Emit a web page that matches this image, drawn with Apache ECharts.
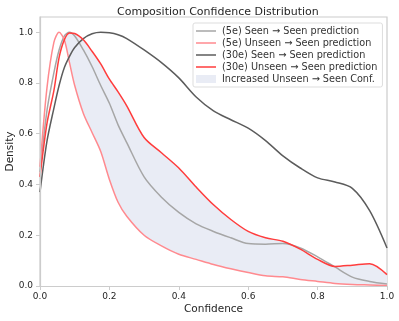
<!DOCTYPE html>
<html>
<head>
<meta charset="utf-8">
<script src="https://cdn.jsdelivr.net/npm/echarts@6/dist/echarts.min.js"></script>
<style>
  html, body { margin: 0; padding: 0; background: #fff; }
  #chart { width: 399px; height: 321px; }
</style>
</head>
<body>
<div id="chart"></div>
<script>
  // confidence grid (x) shared by every curve
  const conf = [0, 0.02, 0.04, 0.055, 0.07, 0.085, 0.1, 0.125, 0.15, 0.175, 0.2, 0.225, 0.25,
    0.3, 0.35, 0.4, 0.45, 0.5, 0.55, 0.6, 0.65, 0.7, 0.75, 0.8, 0.85, 0.9, 0.95, 1.0];
  const seen5e = [0.45, 0.69, 0.84, 0.93, 0.985, 1.0, 0.985, 0.93, 0.865, 0.79, 0.72, 0.635, 0.565,
    0.43, 0.35, 0.29, 0.245, 0.215, 0.19, 0.167, 0.165, 0.167, 0.15, 0.115, 0.075, 0.035, 0.018, 0.008];
  const unseen5e = [0.47, 0.78, 0.96, 1.0, 0.97, 0.88, 0.79, 0.68, 0.605, 0.53, 0.42, 0.33, 0.275,
    0.2, 0.158, 0.125, 0.105, 0.085, 0.068, 0.053, 0.04, 0.036, 0.026, 0.018, 0.01, 0.006, 0.004, 0.002];
  const seen30e = [0.37, 0.57, 0.70, 0.79, 0.86, 0.905, 0.94, 0.975, 0.994, 1.0, 0.998, 0.99, 0.975,
    0.93, 0.88, 0.82, 0.745, 0.69, 0.655, 0.622, 0.573, 0.513, 0.465, 0.426, 0.41, 0.385, 0.297, 0.15];
  const unseen30e = [0.43, 0.64, 0.77, 0.90, 0.97, 0.997, 0.995, 0.97, 0.925, 0.875, 0.815, 0.765, 0.71,
    0.585, 0.525, 0.465, 0.39, 0.32, 0.262, 0.215, 0.19, 0.176, 0.145, 0.105, 0.077, 0.082, 0.088, 0.045];
  const xTicks = [0, 0.2, 0.4, 0.6, 0.8, 1.0];
  const yTicks = [0, 0.2, 0.4, 0.6, 0.8, 1.0];

  const names = {
    s5: '(5e) Seen \u2192 Seen prediction',
    u5: '(5e) Unseen \u2192 Seen prediction',
    s30: '(30e) Seen \u2192 Seen prediction',
    u30: '(30e) Unseen \u2192 Seen prediction',
    fill: 'Increased Unseen \u2192 Seen Conf.'
  };
  const fillColor = '#e9ecf5';
  const font = 'DejaVu Sans';
  const lineIcon = 'path://M0,0 L40,0 L40,3 L0,3 Z';

  const pairs = (ys) => conf.map((x, i) => [x, ys[i]]);

  const lineSeries = (name, ys, color) => ({
    name,
    type: 'line',
    data: pairs(ys),
    smooth: 0.3,
    symbol: 'none',
    z: 4,
    lineStyle: { color, width: 1.5 },
    itemStyle: { color }
  });

  const myChart = echarts.init(document.getElementById('chart'));
  const option = {
    animation: false,
    textStyle: { fontFamily: font },
    title: {
      text: 'Composition Confidence Distribution',
      left: 112,
      top: 2,
      textStyle: { fontFamily: font, fontSize: 11, fontWeight: 'normal', color: '#262626' }
    },
    grid: {
      left: 40, right: 12, top: 17, bottom: 35,
      outerBoundsMode: 'none',
      show: true, borderColor: '#cccccc', borderWidth: 1.2
    },
    legend: {
      orient: 'vertical',
      left: 193,
      top: 23,
      padding: [3, 5, 3, 3],
      itemWidth: 20,
      itemHeight: 8,
      itemGap: 2,
      backgroundColor: 'rgba(255,255,255,0.85)',
      borderColor: '#dddddd',
      borderWidth: 1,
      borderRadius: 2,
      z: 10,
      textStyle: { fontFamily: font, fontSize: 9.7, color: '#333', padding: [0, 0, 0, 1] },
      data: [
        { name: names.s5, icon: lineIcon },
        { name: names.u5, icon: lineIcon },
        { name: names.s30, icon: lineIcon },
        { name: names.u30, icon: lineIcon },
        { name: names.fill, icon: 'rect' }
      ]
    },
    xAxis: {
      type: 'value',
      min: 0,
      max: 1,
      interval: 0.2,
      z: 10,
      name: 'Confidence',
      nameLocation: 'middle',
      nameGap: 18,
      nameMoveOverlap: false,
      nameTextStyle: { fontFamily: font, fontSize: 10.5, color: '#262626' },
      splitLine: { show: false },
      axisLine: { show: true, lineStyle: { color: '#cccccc', width: 1.2 } },
      axisTick: { show: true, length: 4, customValues: xTicks, lineStyle: { color: '#cccccc' } },
      axisLabel: {
        customValues: xTicks,
        margin: 6,
        fontSize: 9,
        color: '#262626',
        formatter: (v) => v.toFixed(1)
      }
    },
    yAxis: {
      type: 'value',
      min: 0,
      max: 1.06,
      z: 10,
      name: 'Density',
      nameLocation: 'middle',
      nameGap: 24,
      nameMoveOverlap: false,
      nameTextStyle: { fontFamily: font, fontSize: 10.5, color: '#262626' },
      splitLine: { show: false },
      axisLine: { show: true, lineStyle: { color: '#cccccc', width: 1.2 } },
      axisTick: { show: true, length: 4, customValues: yTicks, lineStyle: { color: '#cccccc' } },
      axisLabel: {
        customValues: yTicks,
        margin: 7,
        fontSize: 9,
        color: '#262626',
        formatter: (v) => v.toFixed(1)
      }
    },
    series: [
      // band: lavender under the 30e unseen curve, masked in white under the 5e unseen curve
      {
        name: names.fill,
        type: 'line',
        data: pairs(unseen30e),
        smooth: 0.3,
        symbol: 'none',
        silent: true,
        z: 1,
        lineStyle: { opacity: 0, width: 0 },
        itemStyle: { color: fillColor },
        areaStyle: { color: fillColor, opacity: 1 }
      },
      {
        name: 'band-mask',
        type: 'line',
        data: pairs(unseen5e),
        smooth: 0.3,
        symbol: 'none',
        silent: true,
        z: 2,
        lineStyle: { opacity: 0, width: 0 },
        areaStyle: { color: '#ffffff', opacity: 1 }
      },
      lineSeries(names.s5, seen5e, '#a6a6a6'),
      lineSeries(names.u5, unseen5e, '#ff8a8f'),
      lineSeries(names.s30, seen30e, '#5c5c5c'),
      lineSeries(names.u30, unseen30e, '#ff3d3d')
    ]
  };
  myChart.setOption(option);
</script>
</body>
</html>
